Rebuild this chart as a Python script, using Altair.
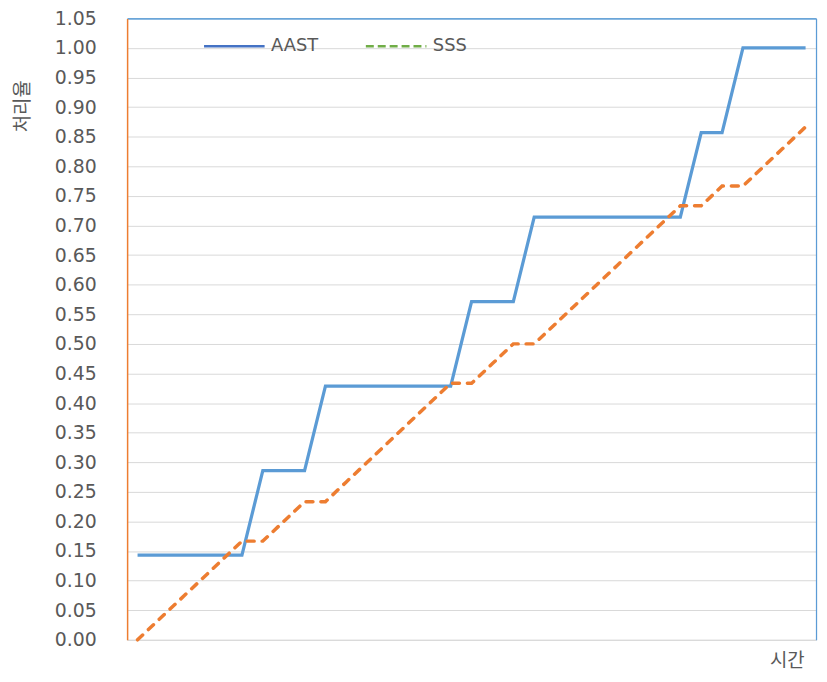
import altair as alt
import pandas as pd

# categories (time steps, category axis without labels)
time = list(range(1, 34))

aast = [0.1429, 0.1429, 0.1429, 0.1429, 0.1429, 0.1429,
        0.2857, 0.2857, 0.2857,
        0.4286, 0.4286, 0.4286, 0.4286, 0.4286, 0.4286, 0.4286,
        0.5714, 0.5714, 0.5714,
        0.7143, 0.7143, 0.7143, 0.7143, 0.7143, 0.7143, 0.7143, 0.7143,
        0.8571, 0.8571,
        1.0, 1.0, 1.0, 1.0]

sss = [0.0, 0.0333, 0.0667, 0.1, 0.1333, 0.1667, 0.1667, 0.2, 0.2333, 0.2333,
       0.2667, 0.3, 0.3333, 0.3667, 0.4, 0.4333, 0.4333, 0.4667, 0.5, 0.5,
       0.5333, 0.5667, 0.6, 0.6333, 0.6667, 0.7, 0.7333, 0.7333, 0.7667, 0.7667,
       0.8, 0.8333, 0.8667]

series_names = ["AAST", "SSS"]
y_ticks = [0.00, 0.05, 0.10, 0.15, 0.20, 0.25, 0.30, 0.35, 0.40, 0.45, 0.50,
           0.55, 0.60, 0.65, 0.70, 0.75, 0.80, 0.85, 0.90, 0.95, 1.00, 1.05]

rows = []
for t, v in zip(time, aast):
    rows.append({"t": t, "v": v, "series": "AAST"})
for t, v in zip(time, sss):
    rows.append({"t": t, "v": v, "series": "SSS"})
df = pd.DataFrame(rows)

GRAY = "#595959"
xscale = alt.Scale(domain=[0.5, 33.5], nice=False, zero=False)
yscale = alt.Scale(domain=[0, 1.05], nice=False, zero=False)

base = alt.Chart(df)

legend = alt.Legend(
    orient="none", legendX=76, legendY=-4, direction="horizontal", title=None,
    symbolType="stroke", symbolSize=3721, symbolStrokeWidth=2.5, symbolOpacity=1,
    labelFont="DejaVu Sans", labelFontSize=18, labelColor=GRAY, labelOffset=5,
    columnPadding=42, padding=0,
)

legend_layer = base.mark_line(opacity=0).encode(
    x=alt.X("t:Q", scale=xscale,
            axis=alt.Axis(orient="top", labels=False, ticks=False, grid=False,
                          title=None, domainColor="#5B9BD5", domainWidth=1.25)),
    y=alt.Y("v:Q", scale=yscale,
            axis=alt.Axis(orient="right", labels=False, ticks=False, grid=False,
                          title=None, domainColor="#5B9BD5", domainWidth=1.25)),
    color=alt.Color("series:N",
                    scale=alt.Scale(domain=series_names, range=["#4472C4", "#70AD47"]),
                    legend=legend),
    strokeDash=alt.StrokeDash("series:N",
                              scale=alt.Scale(domain=series_names, range=[[1, 0], [8, 4]]),
                              legend=legend),
    detail="series:N",
)

aast_line = base.transform_filter(alt.datum.series == "AAST").mark_line(
    color="#5B9BD5", strokeWidth=3.25
).encode(
    x=alt.X("t:Q", scale=xscale,
            axis=alt.Axis(orient="bottom", labels=False, ticks=False, grid=False,
                          domainColor="#D9D9D9", title="시간",
                          titleFont="Noto Sans CJK KR", titleFontSize=19,
                          titleFontWeight="normal", titleColor=GRAY,
                          titleX=664.5, titleY=21, titleAlign="center",
                          titleBaseline="middle", titleAngle=0)),
    y=alt.Y("v:Q", scale=yscale,
            axis=alt.Axis(orient="left", values=y_ticks, format=".2f",
                          labelFont="DejaVu Sans", labelFontSize=19, labelColor=GRAY,
                          labelPadding=31, ticks=False, labelOverlap=False,
                          domainColor="#ED7D31", domainWidth=1.5,
                          grid=True, gridWidth=1,
                          gridColor={"condition": {"test": "datum.value > 1.04", "value": "#5B9BD5"},
                                     "value": "#D9D9D9"},
                          title="처리율", titleFont="Noto Sans CJK KR", titleFontSize=19,
                          titleFontWeight="normal", titleColor=GRAY,
                          titleX=-105, titleY=88, titleAngle=270,
                          titleAlign="center", titleBaseline="middle")),
)

sss_line = base.transform_filter(alt.datum.series == "SSS").mark_line(
    color="#ED7D31", strokeWidth=3.5, strokeDash=[7, 8], strokeCap="round"
).encode(
    x=alt.X("t:Q", scale=xscale, axis=None),
    y=alt.Y("v:Q", scale=yscale, axis=None),
)

chart = alt.layer(legend_layer, aast_line, sss_line).resolve_axis(
    x="independent", y="independent"
).properties(
    width=694, height=626,
    autosize=alt.AutoSizeParams(type="none"),
    padding={"left": 120, "top": 8, "right": 3, "bottom": 32},
).configure_view(stroke=None)

chart.save("out.html", embed_options={"renderer": "svg", "actions": False})
